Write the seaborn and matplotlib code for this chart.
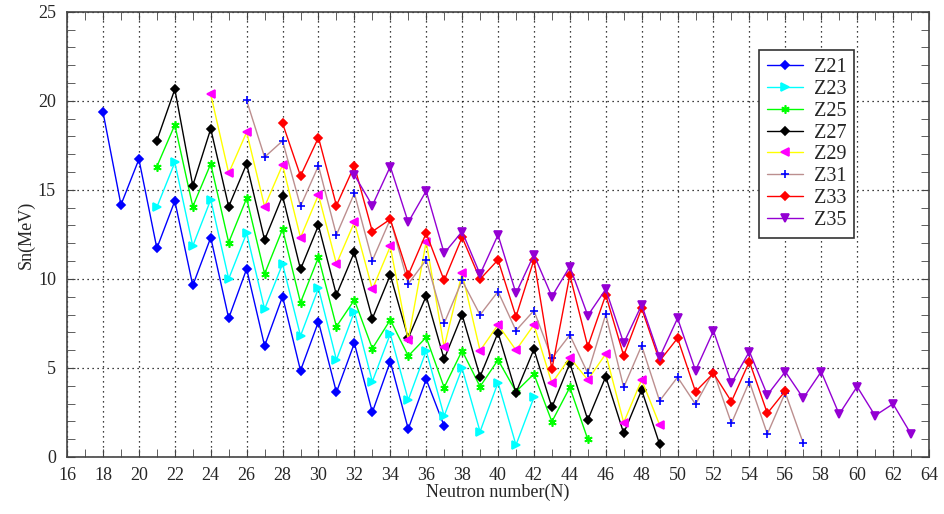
import numpy as np
import pandas as pd
import matplotlib
matplotlib.use("Agg")
import matplotlib.pyplot as plt
import seaborn as sns
from matplotlib.ticker import MultipleLocator

sns.set_style("ticks")
plt.rcParams['font.family'] = ['Liberation Serif', 'DejaVu Serif']

# neutron separation energies
n21 = list(range(18, 38))
sn21 = [19.36, 14.16, 16.72, 11.72, 14.38, 9.63, 12.32, 7.79, 10.56, 6.24,
        9.01, 4.85, 7.60, 3.63, 6.39, 2.51, 5.36, 1.57, 4.36, 1.74]

n23 = list(range(21, 43))
sn23 = [14.03, 16.54, 11.85, 14.45, 10.0, 12.57, 8.30, 10.84, 6.80, 9.48,
        5.45, 8.16, 4.23, 6.91, 3.20, 5.96, 2.30, 4.98, 1.42, 4.18, 0.67, 3.35]

n25 = list(range(21, 46))
sn25 = [16.31, 18.65, 14.06, 16.46, 12.04, 14.53, 10.28, 12.79, 8.67, 11.22,
        7.32, 8.82, 6.09, 7.70, 5.67, 6.72, 3.90, 5.97, 3.95, 5.45, 3.67, 4.66,
        1.98, 3.91, 0.99]

n27 = list(range(21, 50))
sn27 = [17.77, 20.65, 15.24, 18.43, 14.06, 16.46, 12.19, 14.66, 10.54, 13.0,
        9.10, 11.50, 7.77, 10.22, 6.67, 9.04, 5.49, 7.98, 4.51, 6.98, 3.61, 6.05,
        2.79, 5.26, 2.08, 4.51, 1.33, 3.76, 0.72]

n29 = list(range(24, 50))
sn29 = [20.37, 15.94, 18.24, 14.06, 16.40, 12.32, 14.72, 10.84, 13.18, 9.42,
        11.82, 6.57, 12.10, 6.16, 10.32, 5.97, 7.42, 6.0, 7.42, 4.14, 5.58, 4.33,
        5.79, 1.93, 4.33, 1.80]

n31 = list(range(26, 58))
sn31 = [20.02, 16.84, 17.75, 14.08, 16.35, 12.47, 14.81, 11.03, 13.35, 9.72,
        11.07, 7.51, 9.91, 7.98, 9.29, 7.10, 8.22, 5.54, 6.85, 4.70, 8.01, 3.91,
        6.25, 3.15, 4.48, 2.96, 4.79, 1.89, 4.23, 1.29, 3.61, 0.77]

n33 = list(range(28, 57))
sn33 = [18.74, 15.78, 17.94, 14.12, 16.35, 12.66, 13.35, 10.22, 12.57, 9.91,
        12.34, 9.98, 11.07, 7.88, 11.07, 4.93, 10.22, 6.20, 9.10, 5.69, 8.35,
        5.39, 6.67, 3.67, 4.70, 3.11, 5.36, 2.45, 3.71]

n35 = list(range(32, 64))
sn35 = [15.84, 14.12, 16.31, 13.18, 14.94, 11.44, 12.66, 10.26, 12.47, 9.19,
        11.35, 9.01, 10.69, 7.94, 9.42, 6.39, 8.54, 5.60, 7.79, 4.85, 7.08, 4.14,
        5.92, 3.48, 4.79, 3.30, 4.79, 2.40, 3.95, 2.32, 2.98, 1.29]

labels = ["Z21", "Z23", "Z25", "Z27", "Z29", "Z31", "Z33", "Z35"]
xs = [n21, n23, n25, n27, n29, n31, n33, n35]
ys = [sn21, sn23, sn25, sn27, sn29, sn31, sn33, sn35]

# (line colour, marker, marker colour)
styles = [
    ("#0000ff", "D", "#0000ff"),
    ("#00ffff", ">", "#00ffff"),
    ("#00ff00", (6, 2, 0), "#00ff00"),
    ("#000000", "D", "#000000"),
    ("#ffff00", "<", "#ff00ff"),
    ("#bc8f8f", "+", "#0000ff"),
    ("#ff0000", "D", "#ff0000"),
    ("#9400d3", "v", "#9400d3"),
]

fig = plt.figure(figsize=(9.45, 5.14), dpi=100)
ax = fig.add_axes([0.071, 0.111, 0.912, 0.866])

for lab, x, y, (lc, mk, mc) in zip(labels, xs, ys, styles):
    df = pd.DataFrame({"N": x, "Sn": y})
    ms = 6 if mk in ("+", ">", "<", "v") or isinstance(mk, tuple) else 4
    sns.lineplot(data=df, x="N", y="Sn", ax=ax, color=lc, lw=1, marker=mk,
                 markersize=ms, markerfacecolor=mc, markeredgecolor=mc,
                 markeredgewidth=1.2, label=lab, sort=False)

ax.set_xlim(16, 64)
ax.set_ylim(0, 25)
ax.xaxis.set_major_locator(MultipleLocator(2))
ax.xaxis.set_minor_locator(MultipleLocator(1))
ax.yaxis.set_major_locator(MultipleLocator(5))
ax.yaxis.set_minor_locator(MultipleLocator(1))
ax.tick_params(which="both", direction="in", top=True, right=True,
               labelsize=13, color="#444444")
ax.tick_params(which="both", length=6)
ax.tick_params(axis="x", pad=7)
ax.tick_params(axis="y", pad=8)
ax.grid(True, which="major", linestyle=(0, (1, 3)), color="black", lw=0.9)
for s in ax.spines.values():
    s.set_color("#444444")
    s.set_linewidth(1.2)

ax.set_xlabel("Neutron number(N)", fontsize=13, labelpad=0)
ax.set_ylabel("Sn(MeV)", fontsize=13, labelpad=2)

leg = ax.legend(loc="upper left", bbox_to_anchor=(0.803, 0.915), fontsize=14.5,
                frameon=True, fancybox=False, handlelength=1.8,
                borderpad=0.4, labelspacing=0.14, handletextpad=0.5,
                borderaxespad=0)
leg.get_frame().set_edgecolor("#333333")
leg.get_frame().set_linewidth(1.2)
leg.get_frame().set_alpha(1)

fig.savefig("out.png", dpi=100)
